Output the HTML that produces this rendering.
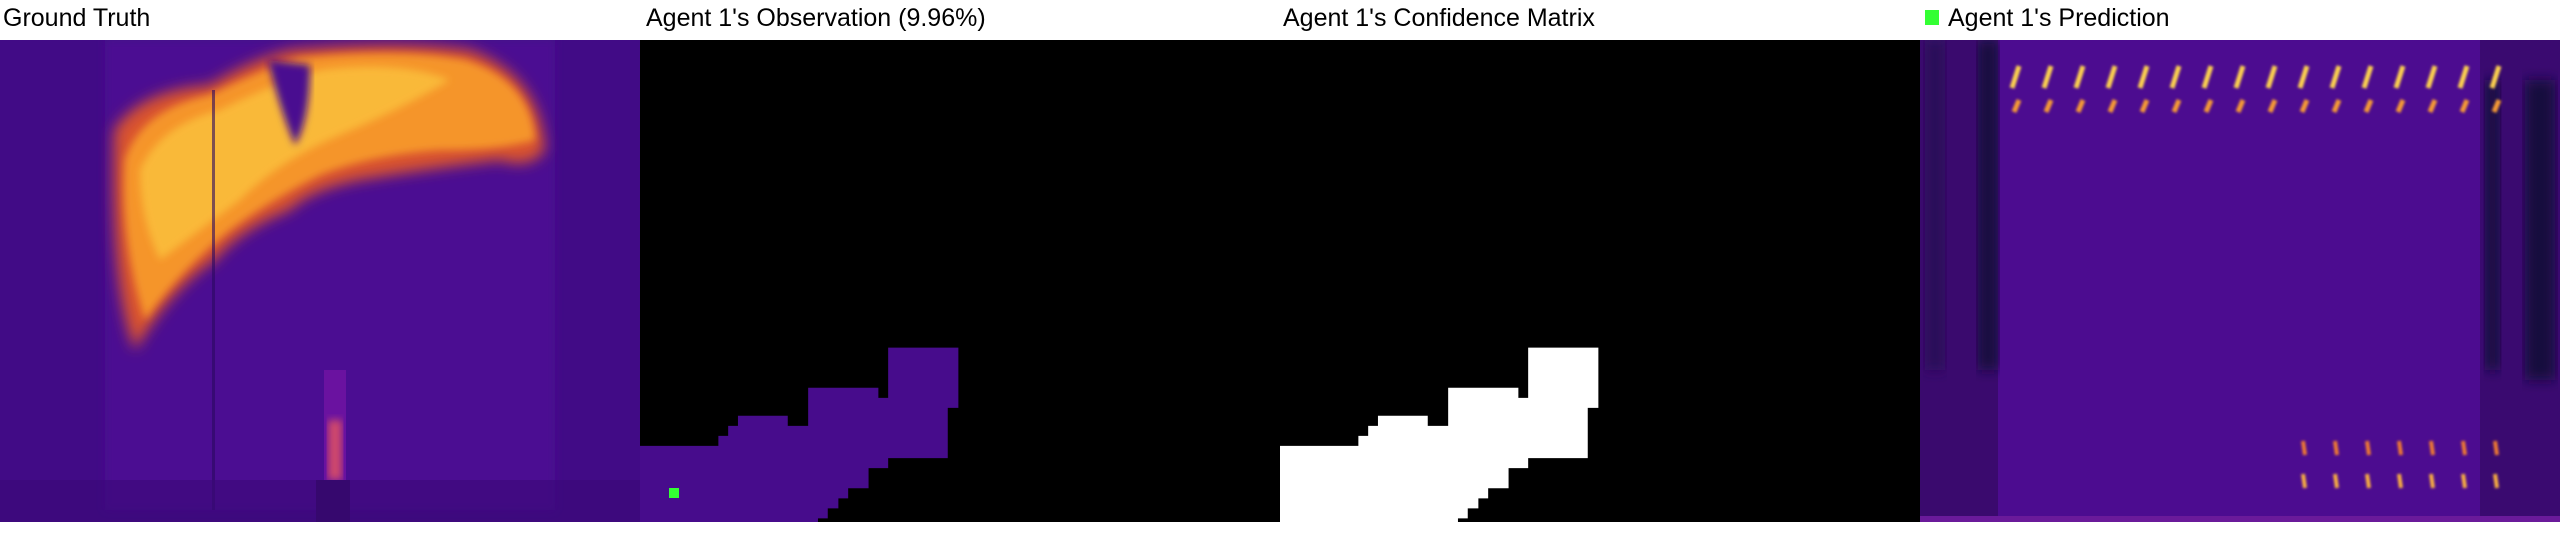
<!DOCTYPE html>
<html><head><meta charset="utf-8">
<style>
html,body{margin:0;padding:0;background:#fff;width:2560px;height:560px;overflow:hidden}
.t{position:absolute;top:4px;font-family:"Liberation Sans Narrow","Liberation Sans",sans-serif;font-size:25px;color:#000;white-space:nowrap}
svg{position:absolute;top:40px;display:block}
</style></head><body>
<div class="t" style="left:3px">Ground Truth</div>
<div class="t" style="left:646px">Agent 1's Observation (9.96%)</div>
<div class="t" style="left:1283px">Agent 1's Confidence Matrix</div>
<div style="position:absolute;left:1925px;top:10px;width:14px;height:15px;background:#33ff33"></div>
<div class="t" style="left:1948px">Agent 1's Prediction</div>

<svg style="left:0" width="640" height="482" viewBox="0 0 640 482">
<defs>
<filter id="b1" x="-20%" y="-20%" width="140%" height="140%"><feGaussianBlur stdDeviation="7"/></filter>
<filter id="b2"><feGaussianBlur stdDeviation="4"/></filter>
</defs>
<rect width="640" height="482" fill="#410b86"/>
<rect x="105" width="450" height="470" fill="#4b0c92" filter="url(#b2)"/>
<path d="M114 90 Q140 50 210 45 Q250 20 290 10 Q400 0 470 10 Q540 35 545 110 Q530 130 500 120 Q420 130 360 140 Q310 150 290 170 Q240 190 215 220 Q170 250 135 310 Q110 250 114 90Z" fill="#d9532f" filter="url(#b1)"/>
<path d="M125 120 Q140 70 210 55 Q260 30 300 18 Q400 8 465 20 Q530 40 535 100 Q500 110 440 110 Q370 115 320 135 Q270 160 230 190 Q180 230 145 280 Q120 200 125 120Z" fill="#f5952a" filter="url(#b2)"/>
<path d="M140 130 Q160 85 220 70 Q270 45 320 30 Q400 20 450 40 Q400 70 340 95 Q280 120 240 160 Q200 190 160 220 Q140 180 140 130Z" fill="#fbc23e" filter="url(#b2)" opacity=".8"/>
<path d="M268 20 Q280 70 295 105 Q310 80 310 25Z" fill="#4a0c90" filter="url(#b2)"/>
<rect x="212" y="50" width="3" height="420" fill="#2a0860" opacity=".6"/>
<rect x="324" y="330" width="22" height="110" fill="#6a12a0"/>
<rect x="328" y="380" width="14" height="60" fill="#d0486a" filter="url(#b2)"/>
<rect x="316" y="440" width="34" height="42" fill="#310860"/>
<rect x="0" y="440" width="640" height="42" fill="#3a0878" opacity=".6"/>
</svg>

<svg style="left:640px" width="640" height="482" viewBox="0 0 640 482" preserveAspectRatio="none">
<rect width="640" height="482" fill="#000"/>
<polygon id="obsPoly" fill="#470c8c"/>
<rect x="29" y="448" width="10" height="10" fill="#33ff33"/>
</svg>

<svg style="left:1280px" width="640" height="482" viewBox="0 0 640 482" preserveAspectRatio="none">
<rect width="640" height="482" fill="#000"/>
<polygon id="confPoly" fill="#fff"/>
</svg>

<svg style="left:1920px" width="640" height="482" viewBox="0 0 640 482">
<defs><filter id="b3"><feGaussianBlur stdDeviation="1.2"/></filter>
<filter id="b4"><feGaussianBlur stdDeviation="6"/></filter></defs>
<rect width="640" height="482" fill="#4c0c90"/>
<rect x="0" width="78" height="482" fill="#3a0a6e"/>
<rect x="58" y="0" width="20" height="330" fill="#16083e" filter="url(#b4)"/>
<rect x="5" y="0" width="20" height="330" fill="#2a0858" filter="url(#b4)"/>
<rect x="560" width="80" height="482" fill="#3a0a70"/>
<rect x="565" y="40" width="15" height="290" fill="#16083e" filter="url(#b4)"/>
<rect x="605" y="40" width="30" height="300" fill="#16083e" filter="url(#b4)"/>
<rect x="0" y="476" width="640" height="6" fill="#6a1a9a"/>
<g id="predMarks" filter="url(#b3)"></g>
</svg>

<script>
// step outline of the observed region (panel-local coordinates in zoom units)
const stepX = [0,96,96,108,108,120,120,181,181,206,206,292,292,304,304,390,390,377,377,304,304,280,280,255,255,243,243,230,230,218,218,0];
const stepY = [1243,1243,1215,1215,1187,1187,1159,1159,1187,1187,1081,1081,1109,1109,969,969,1137,1137,1277,1277,1305,1305,1361,1361,1389,1389,1417,1417,1445,1445,1455,1455];
const sx = v => v * 640 / 784;
const sy = v => (v - 112) * 482 / 1343;
const pts = stepX.map((x, i) => sx(x) + ',' + sy(stepY[i])).join(' ');
document.getElementById('obsPoly').setAttribute('points', pts);
document.getElementById('confPoly').setAttribute('points', pts);

// prediction bright streak rows
const topCols = 16;
const bottomCols = 7;
const g = document.getElementById('predMarks');
const ns = 'http://www.w3.org/2000/svg';
for (let i = 0; i < topCols; i++) {
  const x = 92 + i * 32;
  const a = document.createElementNS(ns, 'line');
  
  
  a.setAttribute('x1', x); a.setAttribute('y1', 48); a.setAttribute('x2', x + 7); a.setAttribute('y2', 26);
  a.setAttribute('stroke', '#fcd050'); a.setAttribute('stroke-width', '5');
  g.appendChild(a);
  const b = document.createElementNS(ns, 'line');
  
  
  b.setAttribute('x1', x + 2); b.setAttribute('y1', 72); b.setAttribute('x2', x + 7); b.setAttribute('y2', 60);
  b.setAttribute('stroke', '#f59a35'); b.setAttribute('stroke-width', '5');
  g.appendChild(b);
}
for (let i = 0; i < bottomCols; i++) {
  const x = 383 + i * 32;
  [[415, '#f07a30'], [448, '#fbb040']].forEach(([y, c]) => {
    const l = document.createElementNS(ns, 'line');
    
    
    l.setAttribute('x1', x + 2); l.setAttribute('y1', y); l.setAttribute('x2', x); l.setAttribute('y2', y - 14);
    l.setAttribute('stroke', c); l.setAttribute('stroke-width', '4');
    g.appendChild(l);
  });
}
</script>
</body></html>
